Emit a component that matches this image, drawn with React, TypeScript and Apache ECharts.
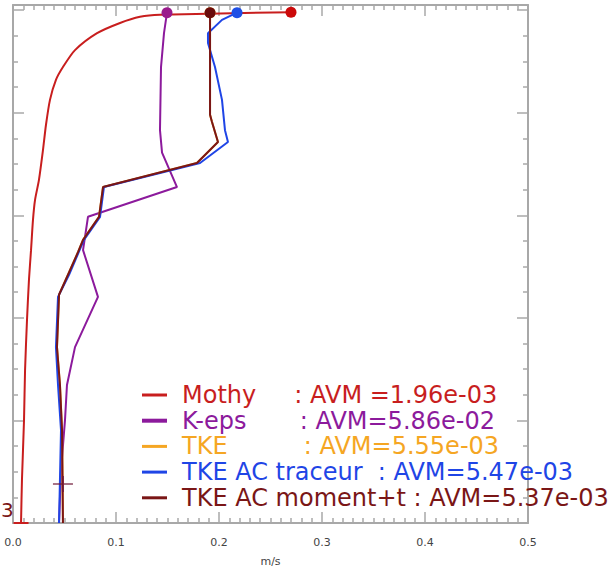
import React, { useEffect, useRef } from "react";
import * as echarts from "echarts";

// ---- data (x in m/s, y = vertical level, 0 = bottom) ----
const mothyX = [0.0078, 0.0087, 0.0107, 0.0117, 0.0136, 0.0155, 0.0175, 0.0194, 0.0214, 0.0252, 0.0291, 0.032, 0.0359, 0.0417, 0.0485, 0.0602, 0.0816, 0.1039, 0.1233, 0.1427, 0.2699];
const mothyY = [0, 8.4, 20.1, 29.8, 39.6, 47.4, 53.2, 59.1, 63.0, 66.9, 72.7, 77.6, 82.5, 86.4, 88.9, 92.2, 95.5, 97.5, 98.7, 99.1, 99.6];

const kepsX = [0.0447, 0.0466, 0.0505, 0.0524, 0.0602, 0.0825, 0.068, 0.0728, 0.1592, 0.1447, 0.1427, 0.1437, 0.1466, 0.1495];
const kepsY = [0, 10.3, 20.1, 26.9, 34.3, 44.1, 53.2, 59.7, 65.5, 72.2, 76.6, 88.9, 95.5, 99.5];

const tkeX = [0.0485, 0.0476, 0.0456, 0.0427, 0.0447, 0.0534, 0.0631, 0.068, 0.0835, 0.0874, 0.1786, 0.199, 0.1932, 0.1913, 0.1913];
const tkeY = [0, 18.1, 26.9, 34.3, 44.5, 48.4, 52.8, 55.2, 59.7, 65.5, 70.2, 74.3, 78.2, 79.6, 99.5];

const traceurX = [0.0447, 0.0466, 0.0437, 0.0417, 0.0437, 0.0544, 0.0689, 0.0845, 0.0883, 0.1816, 0.2087, 0.2058, 0.2029, 0.1961, 0.1893, 0.1893, 0.2029, 0.2175];
const traceurY = [0, 18.1, 26.9, 34.3, 44.1, 48.4, 55.2, 59.7, 65.5, 70.2, 74.3, 76.6, 82.5, 88.9, 93.6, 95.5, 98.1, 99.5];

const momentX = [0.0485, 0.0476, 0.0456, 0.0427, 0.0447, 0.0534, 0.0631, 0.068, 0.0835, 0.0874, 0.1786, 0.199, 0.1932, 0.1913, 0.1913];
const momentY = [0, 18.1, 26.9, 34.3, 44.5, 48.4, 52.8, 55.2, 59.7, 65.5, 70.2, 74.3, 78.2, 79.6, 99.5];

const obsX = [0.0485];
const obsY = [7.6];

const seriesNames = ["Mothy", "K-eps", "TKE", "TKE AC traceur", "TKE AC moment+t"];
const seriesColors = ["#c81e1e", "#8c1a9c", "#f5a623", "#1f45e6", "#7a1616"];
const dotColors = ["#cc0a0a", "#9a1a8c", "#f5a623", "#1f4fe6", "#6a0c0c"];
const legendLabels = [
  "Mothy     : AVM =1.96e-03",
  "K-eps       : AVM=5.86e-02",
  "TKE          : AVM=5.55e-03",
  "TKE AC traceur  : AVM=5.47e-03",
  "TKE AC moment+t : AVM=5.37e-03",
];
const xTicks = [0, 0.1, 0.2, 0.3, 0.4, 0.5];

const allX = [mothyX, kepsX, tkeX, traceurX, momentX];
const allY = [mothyY, kepsY, tkeY, traceurY, momentY];

export default function App() {
  const ref = useRef<HTMLDivElement>(null);
  useEffect(() => {
    if (!ref.current) return;
    const chart = echarts.init(ref.current, undefined, { renderer: "svg" });
    const axisGrey = "#a8a8a8";
    const baseX = {
      type: "value",
      min: 0,
      max: 0.5,
      interval: 0.1,
      splitLine: { show: false },
      axisLine: { show: true, onZero: false, lineStyle: { color: axisGrey, width: 2 } },
      axisTick: { show: true, inside: true, length: 11, lineStyle: { color: axisGrey, width: 1.5 } },
      minorTick: { show: true, splitNumber: 10, length: 5, lineStyle: { color: axisGrey, width: 1.5 } },
    };
    const baseY = {
      type: "value",
      min: 0,
      max: 101,
      interval: 20,
      splitLine: { show: false },
      axisLabel: { show: false },
      axisLine: { show: true, onZero: false, lineStyle: { color: axisGrey, width: 2 } },
      axisTick: { show: true, inside: true, length: 11, lineStyle: { color: axisGrey, width: 1.5 } },
      minorTick: { show: true, splitNumber: 4, length: 5, lineStyle: { color: axisGrey, width: 1.5 } },
    };
    const lineSeries = seriesNames.map((name, i) => {
      const xs = allX[i];
      const ys = allY[i];
      const data = xs.map((x, k) =>
        k === xs.length - 1
          ? { value: [x, ys[k]], symbol: "circle", symbolSize: 11, itemStyle: { color: dotColors[i] } }
          : { value: [x, ys[k]], symbol: i === 0 && k === 0 ? "rect" : "none", symbolSize: [15, 2] }
      );
      return {
        type: "line",
        name,
        data,
        showSymbol: true,
        symbol: "none",
        smooth: i === 0 ? 0.25 : false,
        clip: false,
        z: 2 + i,
        lineStyle: { color: seriesColors[i], width: 2 },
        itemStyle: { color: seriesColors[i] },
      };
    });
    const legendGraphics: any[] = [];
    legendLabels.forEach((label, i) => {
      const cy = 395 + i * 25.7;
      legendGraphics.push({
        type: "line",
        shape: { x1: 142, y1: cy, x2: 167, y2: cy },
        style: { stroke: seriesColors[i], lineWidth: i === 1 ? 4 : 3 },
        z: 50,
      });
      legendGraphics.push({
        type: "text",
        x: 182,
        y: cy,
        style: {
          text: label,
          fill: seriesColors[i],
          font: '24px "DejaVu Sans"',
          verticalAlign: "middle",
          align: "left",
        },
        z: 50,
      });
    });
    legendGraphics.push({
      type: "text",
      x: 1,
      y: 510,
      style: { text: "3", fill: "#7a1616", font: '20px "DejaVu Sans"', verticalAlign: "middle" },
      z: 50,
    });

    chart.setOption({
      animation: false,
      backgroundColor: "#ffffff",
      grid: { left: 13, right: 81, top: 5, bottom: 61, containLabel: false },
      xAxis: [
        {
          ...baseX,
          position: "bottom",
          axisLabel: {
            color: "#444",
            fontSize: 11,
            fontFamily: "DejaVu Sans",
            margin: 14,
            formatter: (v: number) => (xTicks.some((t) => Math.abs(t - v) < 1e-9) ? v.toFixed(1) : ""),
          },
          name: "m/s",
          nameLocation: "middle",
          nameGap: 33,
          nameTextStyle: { color: "#444", fontSize: 11, fontFamily: "DejaVu Sans" },
        },
        { ...baseX, position: "top", axisLabel: { show: false } },
      ],
      yAxis: [
        { ...baseY, position: "left" },
        { ...baseY, position: "right" },
      ],
      series: [
        ...lineSeries,
        {
          type: "scatter",
          name: "obs",
          data: obsX.map((x, k) => [x, obsY[k]]),
          symbol: "path://M0,9H20V11H0Z M9,0H11V20H9Z",
          symbolSize: [20, 16],
          itemStyle: { color: "#6e1636" },
          z: 20,
        },
      ],
      graphic: legendGraphics,
    });
    return () => chart.dispose();
  }, []);
  return (
    <div
      ref={ref}
      style={{ position: "fixed", left: 0, top: 0, width: 609, height: 584, background: "#fff" }}
    />
  );
}
